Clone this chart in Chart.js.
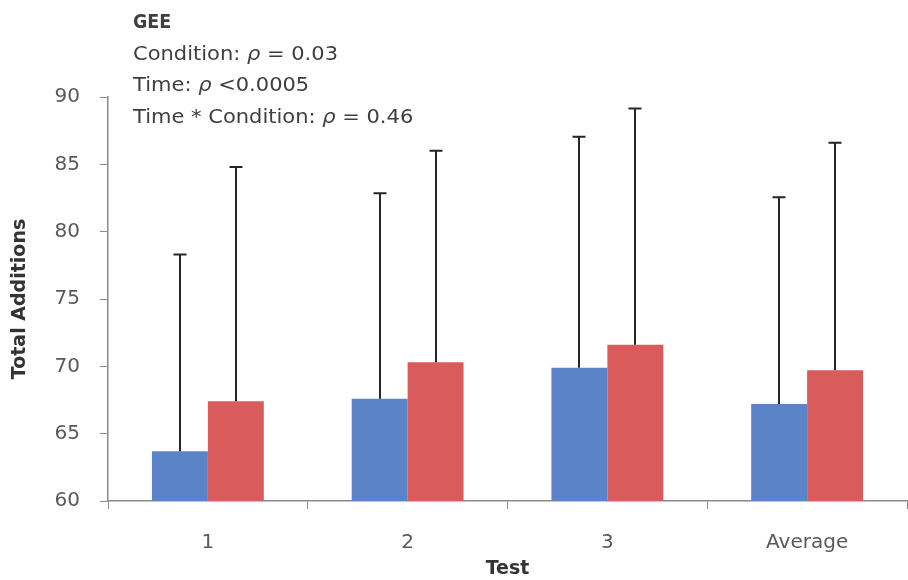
<!DOCTYPE html>
<html>
<head>
<meta charset="utf-8">
<script src="https://cdn.jsdelivr.net/npm/chart.js@4"></script>
<style>
  html, body { margin: 0; padding: 0; background: #ffffff; }
  #wrap { width: 908px; height: 580px; position: relative; }
</style>
</head>
<body>
<div id="wrap"><canvas id="c" width="908" height="580"></canvas></div>
<script>
// ---- data ----
const categories = ["1", "2", "3", "Average"];
const seriesANames = "Condition A";
const seriesBNames = "Condition B";
const seriesA = [63.7, 67.6, 69.9, 67.2];
const seriesB = [67.4, 70.3, 71.6, 69.7];
const seriesAUpper = [78.3, 82.85, 87.05, 82.55];
const seriesBUpper = [84.8, 86.0, 89.15, 86.6];
const yTicks = [60, 65, 70, 75, 80, 85, 90];
const xTitle = "Test";
const yTitle = "Total Additions";
const noteTitle = "GEE";
const noteLines = [
  ["Condition: ", "ρ", " = 0.03"],
  ["Time: ", "ρ", " <0.0005"],
  ["Time * Condition: ", "ρ", " = 0.46"]
];

// ---- styles ----
const BLUE = "#5b83c7";
const RED = "#d95b5c";
const FONT = "'DejaVu Sans', sans-serif";
const TEXT_GRAY = "#595959";

const errorBarPlugin = {
  id: "errorBars",
  afterDatasetsDraw(chart) {
    const ctx = chart.ctx;
    const yScale = chart.scales.y;
    const uppers = [seriesAUpper, seriesBUpper];
    ctx.save();
    ctx.strokeStyle = "#262626";
    ctx.lineWidth = 2;
    chart.data.datasets.forEach((ds, i) => {
      const meta = chart.getDatasetMeta(i);
      meta.data.forEach((bar, j) => {
        const x = Math.round(bar.x);
        const yTop = yScale.getPixelForValue(uppers[i][j]);
        ctx.beginPath();
        ctx.moveTo(x, bar.y);
        ctx.lineTo(x, yTop);
        ctx.moveTo(x - 6.5, yTop);
        ctx.lineTo(x + 6.5, yTop);
        ctx.stroke();
      });
    });
    ctx.restore();
  }
};

const notePlugin = {
  id: "note",
  afterDraw(chart) {
    const ctx = chart.ctx;
    ctx.save();
    ctx.fillStyle = "#3f3f3f";
    ctx.textBaseline = "middle";
    ctx.textAlign = "left";
    const x0 = 133;
    const ys = [23, 55, 86, 118];
    ctx.translate(x0, 0);
    ctx.save();
    ctx.scale(0.92, 1);
    ctx.font = "bold 19px " + FONT;
    ctx.fillText(noteTitle, 0, ys[0]);
    ctx.restore();
    ctx.scale(1.05, 1);
    noteLines.forEach((parts, k) => {
      let x = 0;
      parts.forEach((p, m) => {
        ctx.font = (m === 1 ? "italic " : "") + "20px " + FONT;
        ctx.fillText(p, x, ys[k + 1]);
        x += ctx.measureText(p).width;
      });
    });
    ctx.restore();
  }
};

new Chart(document.getElementById("c"), {
  type: "bar",
  data: {
    labels: categories,
    datasets: [
      { label: seriesANames, data: seriesA, backgroundColor: BLUE, borderWidth: 0 },
      { label: seriesBNames, data: seriesB, backgroundColor: RED, borderWidth: 0 }
    ]
  },
  options: {
    responsive: false,
    animation: false,
    devicePixelRatio: 1,
    categoryPercentage: 0.56,
    barPercentage: 1.0,
    layout: { padding: { top: 97, right: 1, left: 0, bottom: 0 } },
    plugins: {
      legend: { display: false },
      tooltip: { enabled: false },
      title: { display: false }
    },
    scales: {
      x: {
        offset: true,
        grid: { display: true, drawOnChartArea: false, drawTicks: true, tickLength: 8, color: "#8a8a8a", offset: true },
        border: { display: true, color: "#8a8a8a", width: 1.5 },
        ticks: { color: TEXT_GRAY, font: { family: FONT, size: 20 }, padding: 22, maxRotation: 0 },
        title: { display: true, text: xTitle, color: "#333333", font: { family: FONT, size: 19, weight: "bold" }, padding: { top: 0, bottom: 0 } },
        afterFit(scale) { scale.height = 79; }
      },
      y: {
        min: 60,
        max: 90,
        afterBuildTicks(scale) { scale.ticks = yTicks.map(v => ({ value: v })); },
        grid: { display: true, drawOnChartArea: false, drawTicks: true, tickLength: 8, color: "#8a8a8a" },
        border: { display: true, color: "#8a8a8a", width: 1.5 },
        ticks: { color: TEXT_GRAY, font: { family: FONT, size: 20 }, padding: 20 },
        title: { display: true, text: yTitle, color: "#333333", font: { family: FONT, size: 19, weight: "bold" }, padding: { top: 9, bottom: 0 } },
        afterFit(scale) { scale.width = 108; }
      }
    }
  },
  plugins: [errorBarPlugin, notePlugin]
});
</script>
</body>
</html>
